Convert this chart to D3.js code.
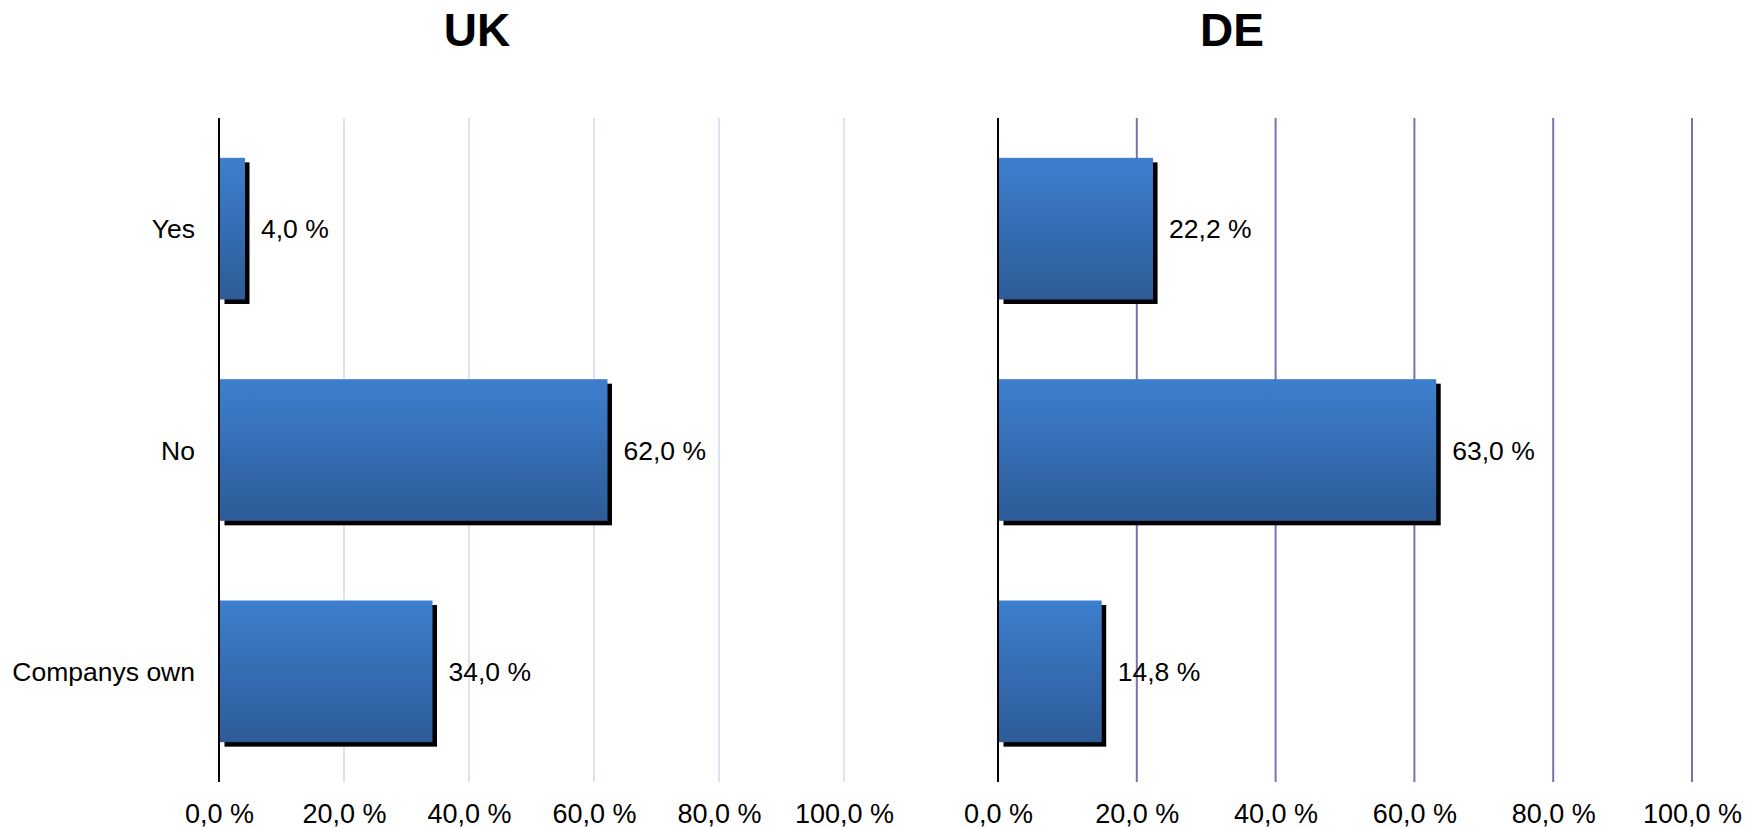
<!DOCTYPE html>
<html>
<head>
<meta charset="utf-8">
<script src="https://cdn.jsdelivr.net/npm/d3@7"></script>
<style>
  body { margin: 0; background: #fff; }
  svg { display: block; font-family: "Liberation Sans", Arial, sans-serif; }
</style>
</head>
<body>
<svg id="chart" width="1760" height="828"></svg>
<script>
// data
var categories = ["Yes", "No", "Companys own"];
var ukValues = [4.0, 62.0, 34.0];
var deValues = [22.2, 63.0, 14.8];
var tickValues = [0, 20, 40, 60, 80, 100];

var fmt = function (v) { return d3.format(".1f")(v).replace(".", ",") + " %"; };

var svg = d3.select("#chart");

var defs = svg.append("defs");
var grad = defs.append("linearGradient")
    .attr("id", "barGrad")
    .attr("x1", 0).attr("y1", 0).attr("x2", 0).attr("y2", 1);
grad.append("stop").attr("offset", "0%").attr("stop-color", "#3d7fce");
grad.append("stop").attr("offset", "100%").attr("stop-color", "#2d5b97");

var plotTop = 118, plotBottom = 782;

var y = d3.scaleBand()
    .domain(categories)
    .range([plotTop, plotBottom])
    .paddingInner(0.36)
    .paddingOuter(0.18);

function panel(opts) {
    var x = d3.scaleLinear().domain([0, 100]).range([opts.x0, opts.x1]);
    var g = svg.append("g");

    // gridlines
    g.selectAll("line.grid")
        .data(tickValues.filter(function (d) { return d > 0; }))
        .enter().append("line")
        .attr("class", "grid")
        .attr("x1", function (d) { return x(d); })
        .attr("x2", function (d) { return x(d); })
        .attr("y1", plotTop)
        .attr("y2", plotBottom)
        .attr("stroke", opts.gridColor)
        .attr("stroke-width", 2);

    // tick labels
    var axis = d3.axisBottom(x).tickValues(tickValues).tickSize(0).tickPadding(0).tickFormat(fmt);
    var ag = g.append("g")
        .attr("transform", "translate(0," + 804 + ")")
        .call(axis);
    ag.select(".domain").remove();
    ag.selectAll("text")
        .attr("font-size", 27)
        .attr("fill", "#000")
        .attr("font-family", "Liberation Sans, Arial, sans-serif")
        .attr("dy", "0.71em");

    var data = categories.map(function (c, i) { return { cat: c, v: opts.values[i] }; });

    // shadows
    g.selectAll("rect.shadow")
        .data(data)
        .enter().append("rect")
        .attr("class", "shadow")
        .attr("x", x(0) + 1 + 4.5)
        .attr("y", function (d) { return y(d.cat) + 4.5; })
        .attr("width", function (d) { return x(d.v) - x(0); })
        .attr("height", y.bandwidth())
        .attr("fill", "#000");

    // bars
    g.selectAll("rect.bar")
        .data(data)
        .enter().append("rect")
        .attr("class", "bar")
        .attr("x", x(0) + 1)
        .attr("y", function (d) { return y(d.cat); })
        .attr("width", function (d) { return x(d.v) - x(0); })
        .attr("height", y.bandwidth())
        .attr("fill", "url(#barGrad)");

    // value labels
    g.selectAll("text.val")
        .data(data)
        .enter().append("text")
        .attr("class", "val")
        .attr("x", function (d) { return x(d.v) + 17; })
        .attr("y", function (d) { return y(d.cat) + y.bandwidth() / 2 + 9.5; })
        .attr("font-size", 26.5)
        .text(function (d) { return fmt(d.v); });

    // axis line
    g.append("line")
        .attr("x1", x(0)).attr("x2", x(0))
        .attr("y1", plotTop).attr("y2", plotBottom)
        .attr("stroke", "#000")
        .attr("stroke-width", 2);

    // title
    g.append("text")
        .attr("x", opts.titleX)
        .attr("y", 46)
        .attr("text-anchor", "middle")
        .attr("font-size", 46)
        .attr("font-weight", "bold")
        .text(opts.title);

    if (opts.showCats) {
        g.selectAll("text.cat")
            .data(categories)
            .enter().append("text")
            .attr("class", "cat")
            .attr("x", opts.x0 - 24)
            .attr("y", function (d) { return y(d) + y.bandwidth() / 2 + 9.5; })
            .attr("text-anchor", "end")
            .attr("font-size", 26.5)
            .text(function (d) { return d; });
    }
}

panel({ x0: 219, x1: 844, values: ukValues, gridColor: "#dbe5f1", title: "UK", titleX: 477, showCats: true });
panel({ x0: 998, x1: 1692, values: deValues, gridColor: "#7474b0", title: "DE", titleX: 1232, showCats: false });
</script>
</body>
</html>
